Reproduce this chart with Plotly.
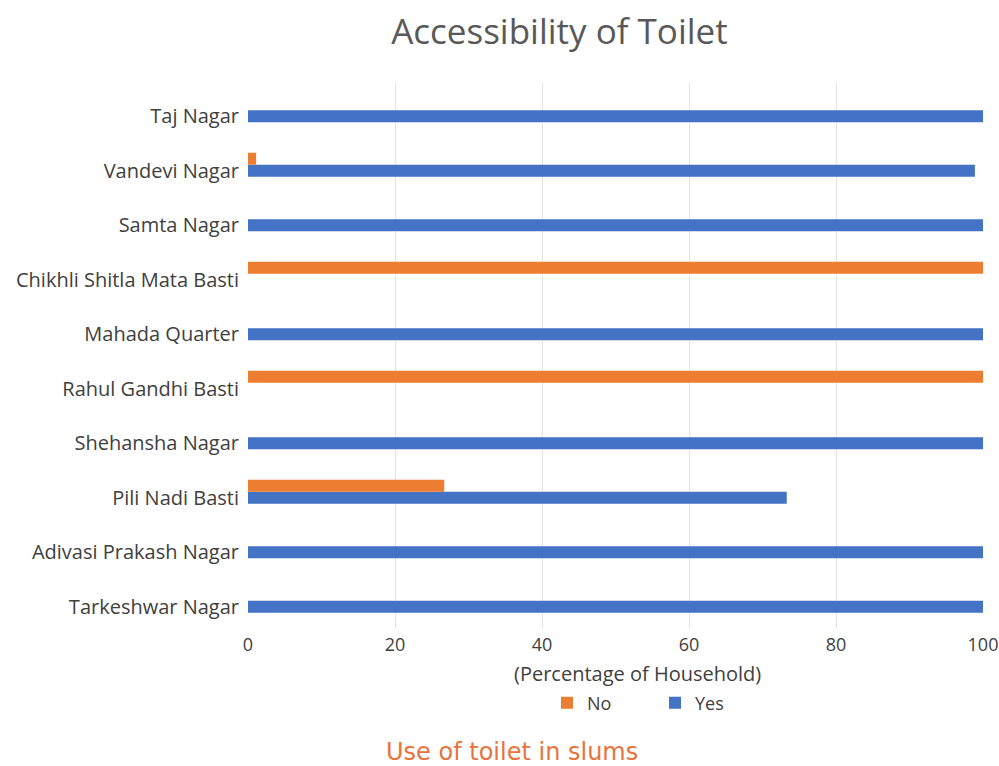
import plotly.graph_objects as go

categories = ["Tarkeshwar Nagar", "Adivasi Prakash Nagar", "Pili Nadi Basti", "Shehansha Nagar",
              "Rahul Gandhi Basti", "Mahada Quarter", "Chikhli Shitla Mata Basti", "Samta Nagar",
              "Vandevi Nagar", "Taj Nagar"]
yes_values = [100, 100, 73.3, 100, 0, 100, 0, 100, 98.9, 100]
no_values = [0, 0, 26.7, 0, 100, 0, 100, 0, 1.1, 0]
x_ticks = [0, 20, 40, 60, 80, 100]

font_family = "Open Sans, Noto Sans, sans-serif"

fig = go.Figure()
fig.add_trace(go.Bar(y=categories, x=yes_values, name="Yes", orientation="h",
                     marker=dict(color="#4472C4", line=dict(width=0))))
fig.add_trace(go.Bar(y=categories, x=no_values, name="No", orientation="h",
                     marker=dict(color="#ED7D31", line=dict(width=0))))

T, B = 83, 138
H = 766 - T - B
bottom_px = 766 - B

fig.update_layout(
    width=999, height=766,
    margin=dict(l=248, r=16, t=T, b=B, autoexpand=False),
    paper_bgcolor="white", plot_bgcolor="white",
    barmode="group", bargap=0.56, bargroupgap=0,
    font=dict(family=font_family, size=16, color="#404040"),
    title=dict(text="Accessibility of Toilet", x=0.56, xanchor="center",
               y=1 - 32 / 766, yanchor="middle",
               font=dict(size=35, color="#595959", family=font_family)),
    legend=dict(orientation="h", x=(655 - 248) / 735, xanchor="center",
                y=(bottom_px - 703) / H, yanchor="middle",
                traceorder="reversed", font=dict(size=18, color="#404040"),
                itemwidth=30, bgcolor="rgba(0,0,0,0)", entrywidth=63),
    xaxis=dict(range=[0, 100], tickvals=x_ticks, showgrid=True, gridcolor="#E3E3E3",
               gridwidth=1, zeroline=False, showline=False, ticks="", automargin=False,
               ticklabelstandoff=4, ticklabeloverflow="allow",
               tickfont=dict(size=18, color="#404040")),
    yaxis=dict(showgrid=False, zeroline=False, showline=False, ticks="", automargin=False,
               ticklabelstandoff=8, ticklabelshift=6, tickfont=dict(size=20, color="#404040")),
    showlegend=True,
)

fig.add_annotation(text="(Percentage of Household)", xref="paper", yref="paper",
                   x=(637 - 248) / 735, y=(bottom_px - 673) / H, xanchor="center", yanchor="middle",
                   showarrow=False, font=dict(size=20, color="#404040"))
fig.add_annotation(text="Use of toilet in slums", xref="paper", yref="paper",
                   x=(512 - 248) / 735, y=(bottom_px - 752) / H, xanchor="center", yanchor="middle",
                   showarrow=False, font=dict(size=24, color="#E8743B", family="DejaVu Sans, sans-serif"))

fig.write_html("out.html")
